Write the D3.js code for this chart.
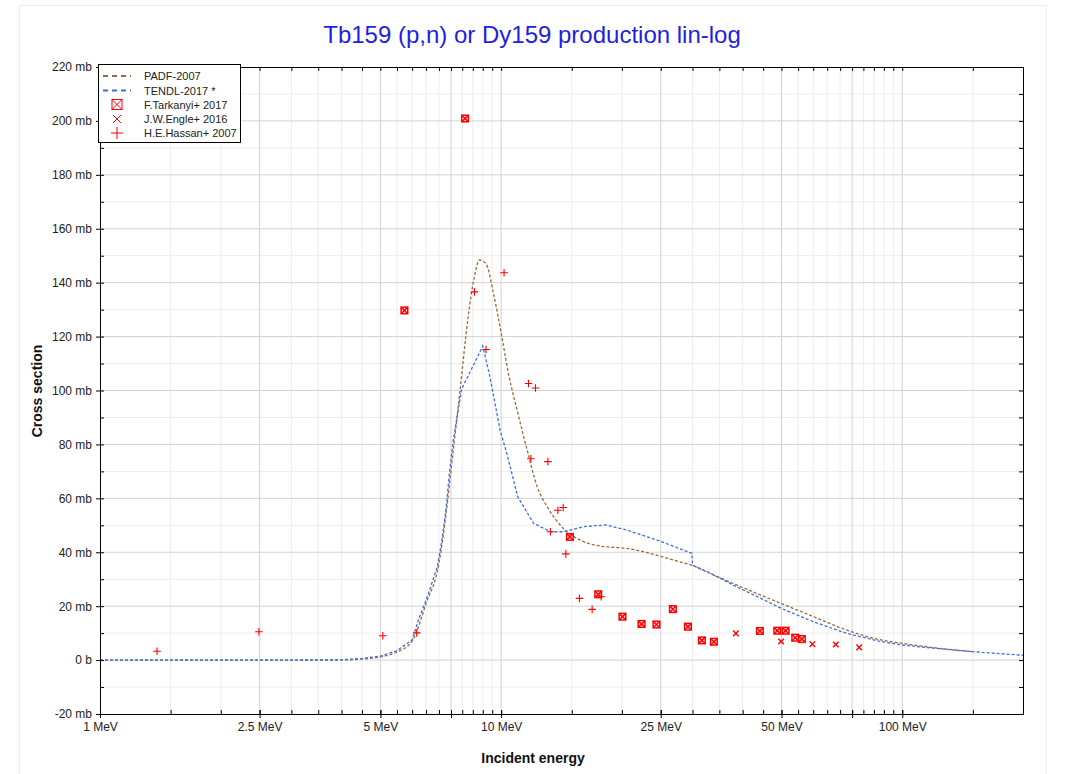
<!DOCTYPE html>
<html><head><meta charset="utf-8">
<script src="https://cdn.jsdelivr.net/npm/d3@7"></script>
<style>
html,body{margin:0;padding:0;background:#fff;}
svg{display:block;font-family:"Liberation Sans",Arial,sans-serif;}
</style></head>
<body>
<svg id="chart" width="1071" height="774"></svg>
<script>
// ---------- data ----------
const padfE   = [1,2,3,4,4.5,5,5.5,6,6.5,7,7.3,7.6,7.9,8.27,8.57,8.83,9.17,9.57,10.04,10.44,10.96,11.63,12.3,13.1,14.3,15.75,17.6,20.6,23.5,26.9,30.2,33,37.9,44.4,49.9,60.1,72.8,87.6,100,120,150];
const padfXS  = [0,0,0,0.05,0.4,1.2,3,7,21,36,55,78,100,127,142,148.4,147,136,120,106,92.7,77.5,64.3,56.3,48.8,44.5,42.3,41.4,39.6,37.1,34.9,32.3,28.4,24.1,21,16.1,11.1,7.6,6.2,4.6,3.1];

const tendlE  = [1,3,4,4.5,5,5.5,6,6.22,6.59,6.93,7.12,7.3,7.43,7.6,7.97,9.0,9.38,9.94,10.33,11.0,12.05,13.3,14.3,16.05,18.3,20.6,24.5,29.9,30.0,33,37.9,44.4,49.9,60.1,72.8,87.6,100,120,150,200];
const tendlXS = [0,0,0.1,0.6,1.5,3.5,7.5,14.8,24.7,34.6,44.5,56.9,69.3,81.6,100.5,116.5,105,85.3,76.7,60.6,50.7,47.6,47.6,49.5,50.1,48.2,44.5,39.6,35.2,32.5,27.8,22.9,19.2,14.2,9.9,7.0,5.6,4.4,3.1,1.8];

const tarkE   = [5.74,8.13,14.84,17.46,20.07,22.39,24.39,26.8,29.22,31.66,33.92,44.16,48.8,51.2,54.1,56.2];
const tarkXS  = [129.7,200.9,45.7,24.4,16.1,13.4,13.2,18.9,12.4,7.3,6.8,10.8,10.9,10.9,8.3,7.8];

const engleE  = [38.48,49.9,59.7,68.3,78.1];
const engleXS = [9.9,6.9,5.9,5.8,4.7];

const hassE   = [1.387,2.49,5.07,6.16,8.58,9.17,10.17,11.7,12.18,11.86,13.08,13.85,14.28,13.27,14.5,15.68,16.86,17.76];
const hassXS  = [3.3,10.5,9.0,10.1,136.6,115.2,143.7,102.6,100.9,74.7,73.6,55.6,56.6,47.6,39.4,22.9,18.8,23.5];

const xMajorTicks = [1,2.5,5,7.5,10,25,50,75,100];
const xLabelTicks = [1,2.5,5,10,25,50,100];
const xLabels     = ["1 MeV","2.5 MeV","5 MeV","10 MeV","25 MeV","50 MeV","100 MeV"];
const xMinorTicks = [1.5,2,3,3.5,4,4.5,5.5,6,6.5,7,8,8.5,9,9.5,15,20,30,35,40,45,55,60,65,70,80,85,90,95,150];
const yMajorTicks = [-20,0,20,40,60,80,100,120,140,160,180,200,220];
const yLabels     = ["-20 mb","0 b","20 mb","40 mb","60 mb","80 mb","100 mb","120 mb","140 mb","160 mb","180 mb","200 mb","220 mb"];
const yMinorTicks = [-10,10,30,50,70,90,110,130,150,170,190,210];

const titleText = "Tb159 (p,n) or Dy159 production lin-log";
const legendNames = ["PADF-2007","TENDL-2017 *","F.Tarkanyi+ 2017","J.W.Engle+ 2016","H.E.Hassan+ 2007"];

// ---------- layout ----------
const L=100, R=1023, T=67, B=714;
const svg = d3.select("#chart");
const x = d3.scaleLog().domain([1,200]).range([L,R]);
const y = d3.scaleLinear().domain([-20,220]).range([B,T]);
const RED="#ff0000", BROWN="#9a6a3a", BLUE="#3d6fe0";

// outer faint frame
svg.append("rect").attr("x",19.5).attr("y",5.5).attr("width",1027).attr("height",800)
  .attr("fill","none").attr("stroke","#ececec");

// title
svg.append("text").attr("x",532).attr("y",43).attr("text-anchor","middle")
  .attr("font-size",24).attr("fill","#1f1fe0").text(titleText);

// grid
const g = svg.append("g");
g.selectAll(".vmin").data(xMinorTicks).join("line")
  .attr("x1",d=>x(d)).attr("x2",d=>x(d)).attr("y1",T).attr("y2",B).attr("stroke","#ededed");
g.selectAll(".hmin").data(yMinorTicks).join("line")
  .attr("y1",d=>y(d)).attr("y2",d=>y(d)).attr("x1",L).attr("x2",R).attr("stroke","#ededed");
g.selectAll(".vmaj").data(xMajorTicks.filter(d=>d>1)).join("line")
  .attr("x1",d=>x(d)).attr("x2",d=>x(d)).attr("y1",T).attr("y2",B).attr("stroke","#d2d2d2");
g.selectAll(".hmaj").data(yMajorTicks.filter(d=>d>-20&&d<220)).join("line")
  .attr("y1",d=>y(d)).attr("y2",d=>y(d)).attr("x1",L).attr("x2",R).attr("stroke","#d2d2d2");

// curves
const lineGen = d3.line().x(d=>x(d[0])).y(d=>y(d[1]));
svg.append("path").datum(padfE.map((e,i)=>[e,padfXS[i]]))
  .attr("d",lineGen.curve(d3.curveMonotoneX)).attr("fill","none").attr("stroke",BROWN)
  .attr("stroke-width",1.3).attr("stroke-dasharray","3,2");
svg.append("path").datum(tendlE.map((e,i)=>[e,tendlXS[i]]))
  .attr("d",d3.line().x(d=>x(d[0])).y(d=>y(d[1]))).attr("fill","none").attr("stroke",BLUE)
  .attr("stroke-width",1.3).attr("stroke-dasharray","3,2");

// markers
function boxX(sel,s,sw){
  sel.append("rect").attr("x",-s).attr("y",-s).attr("width",2*s).attr("height",2*s)
    .attr("fill","none").attr("stroke",RED).attr("stroke-width",sw);
  sel.append("path").attr("d",`M${-s},${-s}L${s},${s}M${-s},${s}L${s},${-s}`)
    .attr("stroke",RED).attr("stroke-width",sw);
}
function cross(sel,s,sw){
  sel.append("path").attr("d",`M${-s},${-s}L${s},${s}M${-s},${s}L${s},${-s}`)
    .attr("stroke",RED).attr("stroke-width",sw).attr("fill","none");
}
function plus(sel,s,sw){
  sel.append("path").attr("d",`M${-s},0L${s},0M0,${-s}L0,${s}`)
    .attr("stroke",RED).attr("stroke-width",sw).attr("fill","none");
}
svg.append("g").selectAll("g").data(tarkE.map((e,i)=>[e,tarkXS[i]])).join("g")
  .attr("transform",d=>`translate(${x(d[0])},${y(d[1])})`).each(function(){boxX(d3.select(this),3.3,1.5);});
svg.append("g").selectAll("g").data(engleE.map((e,i)=>[e,engleXS[i]])).join("g")
  .attr("transform",d=>`translate(${x(d[0])},${y(d[1])})`).each(function(){cross(d3.select(this),2.8,1.4);});
svg.append("g").selectAll("g").data(hassE.map((e,i)=>[e,hassXS[i]])).join("g")
  .attr("transform",d=>`translate(${x(d[0])},${y(d[1])})`).each(function(){plus(d3.select(this),3.8,1.1);});

// axes
function styleAxis(a){ a.select(".domain").attr("stroke","#000"); a.selectAll(".tick line").attr("stroke","#000");
  a.selectAll("text").attr("fill","#222").attr("font-size",12).attr("font-family","Liberation Sans, Arial, sans-serif"); }
const bMin = svg.append("g").attr("transform",`translate(0,${B})`)
  .call(d3.axisBottom(x).tickValues(xMinorTicks.concat(xMajorTicks)).tickSize(-4).tickFormat(""));
styleAxis(bMin);
const bMaj = svg.append("g").attr("transform",`translate(0,${B})`)
  .call(d3.axisBottom(x).tickValues(xMajorTicks).tickSize(4).tickPadding(4)
    .tickFormat(d=>{const i=xLabelTicks.indexOf(d); return i>=0?xLabels[i]:"";}));
styleAxis(bMaj); bMaj.select(".domain").remove();
bMaj.selectAll(".tick line").attr("y1",-4);
const tAx = svg.append("g").attr("transform",`translate(0,${T})`)
  .call(d3.axisTop(x).tickValues(xMinorTicks.concat(xMajorTicks)).tickSize(-4).tickFormat(""));
styleAxis(tAx);
const lMin = svg.append("g").attr("transform",`translate(${L},0)`)
  .call(d3.axisLeft(y).tickValues(yMinorTicks).tickSize(-4).tickFormat(""));
styleAxis(lMin);
const lMaj = svg.append("g").attr("transform",`translate(${L},0)`)
  .call(d3.axisLeft(y).tickValues(yMajorTicks).tickSize(4).tickPadding(4)
    .tickFormat(d=>yLabels[yMajorTicks.indexOf(d)]));
styleAxis(lMaj); lMaj.select(".domain").remove();
lMaj.selectAll(".tick line").attr("x1",4);
const rAx = svg.append("g").attr("transform",`translate(${R},0)`)
  .call(d3.axisRight(y).tickValues(yMajorTicks.concat(yMinorTicks)).tickSize(-4).tickFormat(""));
styleAxis(rAx);

// axis titles
svg.append("text").attr("transform","translate(42,391) rotate(-90)").attr("text-anchor","middle")
  .attr("font-size",14).attr("font-weight","bold").attr("fill","#111").text("Cross section");
svg.append("text").attr("x",533).attr("y",763).attr("text-anchor","middle")
  .attr("font-size",14).attr("font-weight","bold").attr("fill","#111").text("Incident energy");

// legend
const lg = svg.append("g");
lg.append("rect").attr("x",98.5).attr("y",64.5).attr("width",142).attr("height",78)
  .attr("fill","#fff").attr("stroke","#000");
const ly = [76,90.5,104.5,119,133];
lg.append("line").attr("x1",103).attr("x2",131).attr("y1",ly[0]).attr("y2",ly[0])
  .attr("stroke",BROWN).attr("stroke-width",1.8).attr("stroke-dasharray","5,4");
lg.append("line").attr("x1",103).attr("x2",131).attr("y1",ly[1]).attr("y2",ly[1])
  .attr("stroke",BLUE).attr("stroke-width",1.8).attr("stroke-dasharray","5,4");
boxX(lg.append("g").attr("transform",`translate(117,${ly[2]})`),5,1);
cross(lg.append("g").attr("transform",`translate(117,${ly[3]})`),4,1);
plus(lg.append("g").attr("transform",`translate(117,${ly[4]})`),6,1);
lg.selectAll(".lt").data(legendNames).join("text").attr("x",144).attr("y",(d,i)=>ly[i]+4)
  .attr("font-size",11).attr("fill","#222").text(d=>d);
</script>
</body></html>
